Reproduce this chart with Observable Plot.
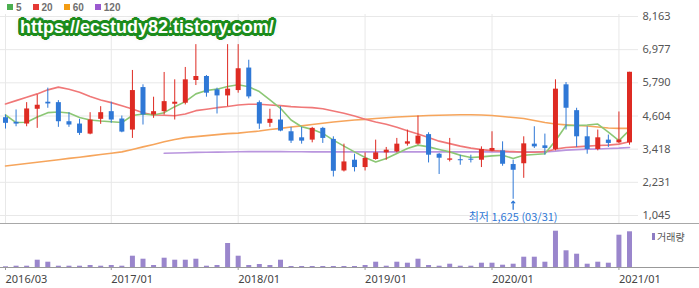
<!DOCTYPE html>
<html><head><meta charset="utf-8">
<script src="https://cdn.jsdelivr.net/npm/d3@7"></script>
<script src="https://cdn.jsdelivr.net/npm/@observablehq/plot@0.6"></script>
<style>
body{margin:0;background:#fff;}
#wrap{position:relative;width:699px;height:288px;overflow:hidden;font-family:"Liberation Sans",Arial,sans-serif;}
#main,#vol{position:absolute;left:0;}
#main{top:0;}
#vol{top:224px;}
#sep{position:absolute;left:0;top:223px;width:699px;height:1px;background:#a8a8a8;}
#legend{position:absolute;left:7px;top:1px;font:bold 10px "Liberation Sans",Arial,sans-serif;color:#707070;display:flex;align-items:center;height:12px}
.sw{display:inline-block;width:6px;height:6px;margin-right:3px}
.it{display:flex;align-items:center;margin-right:11px}
#wm{position:absolute;left:20px;top:17px;font:bold 18px "Liberation Sans",Arial,sans-serif;color:#fff;white-space:nowrap;line-height:20px}
#vl{position:absolute;left:652px;top:229px;font:10px "Noto Sans CJK KR",sans-serif;color:#555;display:flex;align-items:center}
#vl i{display:inline-block;width:3px;height:7px;background:#8e7cc3;margin-right:2px}
</style></head>
<body>
<div id="wrap">
  <div id="main"></div>
  <div id="sep"></div>
  <div id="vol"></div>
  <div id="legend"></div>
  <div id="wm">https://ecstudy82.tistory.com/</div>
  <div id="vl"><i></i>거래량</div>
</div>
<script>
const months = ["2016/03","2016/04","2016/05","2016/06","2016/07","2016/08","2016/09","2016/10","2016/11","2016/12",
"2017/01","2017/02","2017/03","2017/04","2017/05","2017/06","2017/07","2017/08","2017/09","2017/10","2017/11","2017/12",
"2018/01","2018/02","2018/03","2018/04","2018/05","2018/06","2018/07","2018/08","2018/09","2018/10","2018/11","2018/12",
"2019/01","2019/02","2019/03","2019/04","2019/05","2019/06","2019/07","2019/08","2019/09","2019/10","2019/11","2019/12",
"2020/01","2020/02","2020/03","2020/04","2020/05","2020/06","2020/07","2020/08","2020/09","2020/10","2020/11","2020/12",
"2021/01","2021/02"];

const open = [4543,4378,4316,4845,5097,5082,4399,4316,3957,4485,
4759,4496,4101,5621,4640,4759,5025,5061,5873,6017,
5539,5323,5514,6319,5082,4342,4460,4040,3824,3741,
4162,3766,2638,3022,2760,3047,3285,3321,3597,3597,
3939,3238,3022,3040,3058,3022,3346,3357,2868,2896,
3597,3536,3407,5719,4795,3860,3407,3741,3644,3644];
const high = [4640,4820,5082,5359,5600,5154,4723,4485,4723,4938,
5097,4604,6233,5719,5276,6161,5898,6340,7157,6053,
5600,7157,7157,6599,5143,4845,4938,4198,4198,4198,
4198,3860,3597,3238,3285,3741,3479,3802,4101,4604,
4004,3263,3802,3202,3202,3500,4040,3680,3022,3860,
4219,3957,5898,5801,4881,4219,4101,3921,4748,6168];
const low = [4137,4219,4219,4162,4881,4198,4198,3910,3932,4306,
4342,4004,3802,4281,4521,4640,4460,5000,5693,5276,
4676,4938,5420,5215,4126,4198,4040,3623,3597,3644,
3623,2422,2602,2602,2638,3022,3022,3285,3526,3562,
2925,2512,2961,2843,2925,2760,3321,2807,1625,2375,
3443,3202,3357,4101,3479,3238,3357,3479,3615,3561];
const close = [4342,4316,4856,4989,5035,4399,4281,3982,4460,4723,
4460,4029,5514,4640,4759,5118,5097,5898,6017,5420,
5323,5564,6294,5287,4316,4485,4065,3705,3705,4162,
3802,2627,2961,2760,3083,3285,3382,3597,3680,3885,
3202,3094,3069,3004,3022,3407,3443,2878,2663,3608,
3500,3443,5564,4881,3860,3407,3824,3623,3741,6168];

const ma5 = [4640,4370,4378,4568,4723,4748,4712,4550,4460,4424,
4399,4370,4622,4676,4640,4723,4938,5118,5395,5514,
5564,5657,5719,5650,5478,5179,4881,4460,4219,4126,
3982,3741,3526,3321,3119,2961,3083,3263,3443,3562,
3500,3407,3321,3202,3119,3141,3177,3202,3083,3202,
3227,3256,3720,4263,4263,4281,4316,4029,3723,4101];
const ma20 = [5035,5154,5276,5395,5539,5636,5564,5456,5298,5179,
5082,4974,4856,4723,4640,4629,4615,4676,4795,4845,
4902,4946,5000,5025,5025,5000,4974,4938,4917,4902,
4866,4784,4701,4604,4485,4388,4306,4198,4076,3957,
3831,3705,3615,3526,3454,3400,3364,3346,3328,3310,
3310,3328,3418,3479,3500,3526,3551,3562,3597,3680];
const ma60 = [2817,2860,2904,2950,2997,3040,3087,3130,3177,3224,
3274,3321,3407,3500,3587,3680,3766,3831,3867,3903,
3939,3975,3993,4029,4065,4119,4162,4209,4252,4298,
4342,4388,4424,4460,4485,4514,4539,4568,4586,4604,
4622,4633,4640,4647,4647,4640,4622,4586,4550,4514,
4442,4370,4316,4288,4263,4245,4209,4173,4162,4162];
const ma120 = [null,null,null,null,null,null,null,null,null,null,
null,null,null,null,null,3274,3281,3292,3303,3310,
3313,3317,3324,3328,3328,3328,3328,3324,3324,3321,
3321,3321,3321,3321,3321,3321,3321,3321,3321,3321,
3321,3321,3321,3321,3321,3321,3321,3321,3321,3321,
3321,3321,3346,3382,3400,3418,3425,3443,3454,3479];
const volume = [70,130,130,730,530,130,130,130,200,130,
200,130,1130,830,200,930,730,730,830,130,
200,2400,1130,200,300,200,730,100,100,100,
100,100,100,100,200,530,130,530,430,830,
200,130,330,130,130,430,430,230,330,1030,
1030,530,3630,1670,1330,330,530,430,3230,3570];

const yTicks = [1045,2231,3418,4604,5790,6977,8163];
const xTickMonths = ["2016/03","2017/01","2018/01","2019/01","2020/01","2021/01"];
const legendItems = ["5","20","60","120"];
const legendColors = ["#4caf50","#e53935","#f39c12","#9b59d0"];

const RED = "#de2b23", BLUE = "#2f78d6";
const xTickIdx = xTickMonths.map(m => months.indexOf(m));
const rows = months.map((m, i) => ({i, m, o: open[i], h: high[i], l: low[i], c: close[i],
  ma5: ma5[i], ma20: ma20[i], ma60: ma60[i], ma120: ma120[i], v: volume[i]}));
const col = d => d.c >= d.o ? RED : BLUE;
const minIdx = d3.minIndex(low);

const main = Plot.plot({
  width: 699, height: 224,
  marginTop: 14, marginBottom: 1, marginLeft: 0, marginRight: 61,
  x: {domain: [0, 59], range: [5, 629], axis: null},
  y: {domain: [1045, 8163], range: [215, 16], axis: null},
  style: {background: "transparent", overflow: "visible"},
  marks: [
    Plot.gridY(yTicks, {stroke: "#e8e8e8", strokeOpacity: 1}),
    Plot.gridX(xTickIdx, {stroke: "#e8e8e8", strokeOpacity: 1}),
    Plot.axisY(yTicks, {anchor: "right", tickSize: 0, tickPadding: 4, tickFormat: d3.format(","),
      fontSize: 11, fill: "#555", label: null}),
    Plot.line(rows, {x: "i", y: "ma60", stroke: "#f6a55c", strokeWidth: 1.6}),
    Plot.line(rows, {x: "i", y: "ma120", stroke: "#b995de", strokeWidth: 1.6}),
    Plot.line(rows, {x: "i", y: "ma20", stroke: "#f07878", strokeWidth: 1.6}),
    Plot.line(rows, {x: "i", y: "ma5", stroke: "#8cc775", strokeWidth: 1.6}),
    Plot.ruleX(rows, {x: "i", y1: "l", y2: "h", stroke: col, strokeWidth: 1}),
    Plot.ruleX(rows, {x: "i", y1: "o", y2: "c", stroke: col, strokeWidth: 5}),
    Plot.vector([rows[minIdx]], {x: "i", y: "l", length: 8, rotate: 0, anchor: "end", dy: 2,
      stroke: BLUE, strokeWidth: 1.3}),
    Plot.text([rows[minIdx]], {x: "i", y: "l", text: d => `최저 ${d3.format(",")(d.l)} (03/31)`, dy: 18,
      fill: BLUE, fontSize: 11, fontFamily: "Noto Sans CJK KR"})
  ]
});
document.getElementById("main").append(main);

const vol = Plot.plot({
  width: 699, height: 64,
  marginTop: 0, marginBottom: 21, marginLeft: 0, marginRight: 0,
  x: {domain: [0, 59], range: [5, 629], axis: null},
  y: {domain: [0, 4000], range: [43, 3], axis: null},
  style: {background: "transparent", overflow: "visible"},
  marks: [
    Plot.ruleX(rows, {x: "i", y1: 0, y2: "v", stroke: "#9a86cc", strokeWidth: 5}),
    Plot.ruleY([0], {stroke: "#999"}),
    Plot.axisX(xTickIdx, {anchor: "bottom", tickSize: 3, tickPadding: 5, tickFormat: i => months[i],
      textAnchor: "start", fontSize: 11, fill: "#444", stroke: "#999", label: null})
  ]
});
document.getElementById("vol").append(vol);

const lg = document.getElementById("legend");
legendItems.forEach((t, k) => {
  const it = document.createElement("span"); it.className = "it";
  const sw = document.createElement("span"); sw.className = "sw"; sw.style.background = legendColors[k];
  it.append(sw, document.createTextNode(t)); lg.append(it);
});

const sh = [];
for (let a = 0; a < 360; a += 20) {
  const r = a * Math.PI / 180;
  sh.push(`${(2.8*Math.cos(r)).toFixed(2)}px ${(2.8*Math.sin(r)).toFixed(2)}px 0 #1c8c1c`);
  sh.push(`${(1.5*Math.cos(r)).toFixed(2)}px ${(1.5*Math.sin(r)).toFixed(2)}px 0 #1c8c1c`);
}
sh.push("0 0 6px rgba(0,0,0,0.35)");
document.getElementById("wm").style.textShadow = sh.join(",");
</script>
</body></html>
